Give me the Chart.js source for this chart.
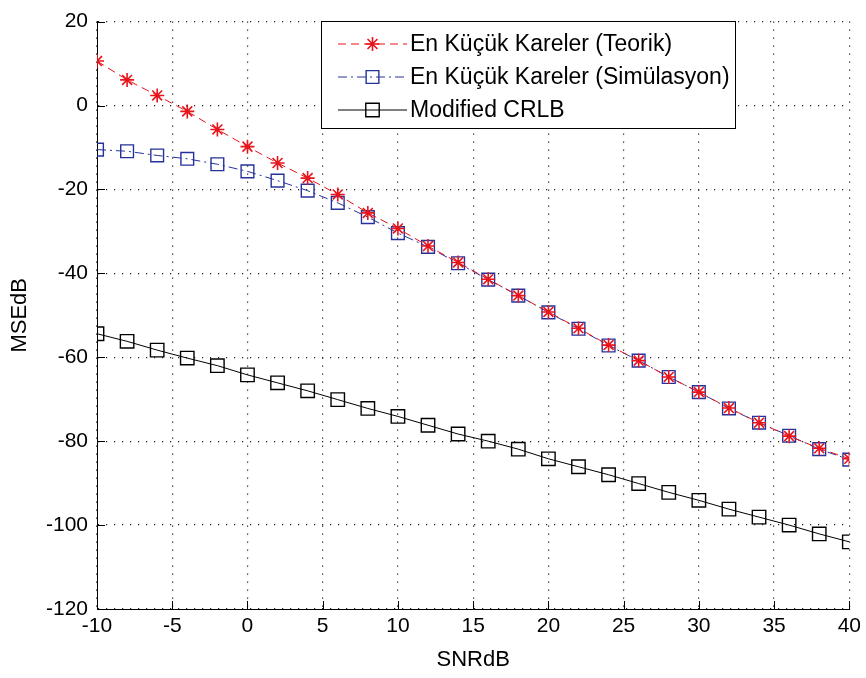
<!DOCTYPE html>
<html>
<head>
<meta charset="utf-8">
<script src="https://cdn.jsdelivr.net/npm/chart.js@4.4.1/dist/chart.umd.min.js"></script>
<style>
  html, body { margin: 0; padding: 0; background: #ffffff; }
  #wrap { width: 866px; height: 678px; }
</style>
</head>
<body>
<div id="wrap"><canvas id="mseChart" width="866" height="678"></canvas></div>
<script>
// SNR values (dB) on the x axis
const snrDb = [-10, -8, -6, -4, -2, 0, 2, 4, 6, 8, 10, 12, 14, 16, 18, 20, 22, 24, 26, 28, 30, 32, 34, 36, 38, 40];

// MSE (dB)
const lsTheory = [10.6, 6.1, 2.4, -1.4, -5.7, -9.8, -13.7, -17.3, -21.2, -25.6, -29.3, -33.5, -37.4,
                  -41.4, -45.3, -49.2, -53.1, -57.1, -60.8, -64.7, -68.3, -72.1, -75.6, -78.8, -81.7, -84.2];
const lsSim = [-10.5, -10.9, -11.9, -12.7, -14, -15.7, -17.9, -20.3, -23.2, -26.6, -30.4, -33.7, -37.6,
               -41.5, -45.3, -49.3, -53.2, -57.2, -60.8, -64.7, -68.3, -72.2, -75.6, -78.7, -81.9, -84.4];
const modCrlb = [-54.4, -56.2, -58.3, -60.2, -62, -64.2, -66.1, -68, -70.1, -72.2, -74.1, -76.2, -78.3,
                 -80, -81.9, -84.2, -86.1, -88, -90.1, -92.2, -94.1, -96.2, -98.1, -100, -102.1, -104];

const seriesNames = ["En Küçük Kareler (Teorik)", "En Küçük Kareler (Simülasyon)", "Modified CRLB"];
const xTicks = [-10, -5, 0, 5, 10, 15, 20, 25, 30, 35, 40];
const yTicks = [-120, -100, -80, -60, -40, -20, 0, 20];

const FONT = "'Liberation Sans', Arial, sans-serif";

function toPoints(values) {
    return snrDb.map((x, i) => ({ x: x, y: values[i] }));
}

// MATLAB style ticks pointing into the plot
const innerTicks = {
    id: "innerTicks",
    afterDraw(chart) {
        const ctx = chart.ctx;
        const area = chart.chartArea;
        const xs = chart.scales.x;
        const ys = chart.scales.y;
        ctx.save();
        ctx.strokeStyle = "#000";
        ctx.lineWidth = 1;
        ctx.beginPath();
        xTicks.forEach(v => {
            const px = Math.round(xs.getPixelForValue(v)) + 0.5;
            ctx.moveTo(px, area.bottom);
            ctx.lineTo(px, area.bottom - 8);
        });
        yTicks.forEach(v => {
            const py = Math.round(ys.getPixelForValue(v)) + 0.5;
            ctx.moveTo(area.left, py);
            ctx.lineTo(area.left + 8, py);
        });
        ctx.stroke();
        ctx.restore();
    }
};

// legend box in the upper part of the axes, like MATLAB's
const boxLegend = {
    id: "boxLegend",
    afterDraw(chart) {
        const ctx = chart.ctx;
        const left = 321, top = 21, w = 414, h = 107;
        ctx.save();
        ctx.fillStyle = "#fff";
        ctx.fillRect(left, top, w, h);
        ctx.strokeStyle = "#000";
        ctx.lineWidth = 1;
        ctx.strokeRect(left + 0.5, top + 0.5, w, h);

        chart.data.datasets.forEach((ds, i) => {
            const y = 44 + i * 33;
            ctx.strokeStyle = ds.borderColor;
            ctx.lineWidth = 1;
            ctx.setLineDash(ds.borderDash || []);
            ctx.beginPath();
            ctx.moveTo(338, y);
            ctx.lineTo(407, y);
            ctx.stroke();
            ctx.setLineDash([]);
            ctx.lineWidth = ds.pointBorderWidth;
            ctx.fillStyle = "rgba(0,0,0,0)"; // hollow markers
            Chart.helpers.drawPoint(ctx, {
                pointStyle: ds.pointStyle,
                radius: ds.pointRadius,
                rotation: 0,
                borderWidth: ds.pointBorderWidth
            }, 372.5, y);

            ctx.fillStyle = "#000";
            ctx.font = "23px " + FONT;
            ctx.textBaseline = "middle";
            ctx.textAlign = "left";
            ctx.fillText(ds.label, 410, y + 1);
        });
        ctx.restore();
    }
};

const ctx = document.getElementById("mseChart").getContext("2d");
const chart = new Chart(ctx, {
    type: "line",
    data: {
        datasets: [
            {
                label: seriesNames[0],
                data: toPoints(lsTheory),
                borderColor: "#e8141c",
                borderWidth: 1,
                borderDash: [8, 5],
                pointStyle: "star",
                pointRadius: 7,
                pointBorderWidth: 1.6,
                pointBorderColor: "#e8141c",
                pointBackgroundColor: "rgba(0,0,0,0)",
                tension: 0
            },
            {
                label: seriesNames[1],
                data: toPoints(lsSim),
                borderColor: "#26329c",
                borderWidth: 1,
                borderDash: [9, 4, 2, 4],
                pointStyle: "rect",
                pointRadius: 9,
                pointBorderWidth: 1.4,
                pointBorderColor: "#26329c",
                pointBackgroundColor: "rgba(0,0,0,0)",
                tension: 0
            },
            {
                label: seriesNames[2],
                data: toPoints(modCrlb),
                borderColor: "#000000",
                borderWidth: 1,
                pointStyle: "rect",
                pointRadius: 9.5,
                pointBorderWidth: 1.4,
                pointBorderColor: "#000000",
                pointBackgroundColor: "rgba(0,0,0,0)",
                tension: 0
            }
        ]
    },
    options: {
        responsive: false,
        animation: false,
        layout: { padding: { top: 14, right: 12, left: 0, bottom: 0 } },
        plugins: {
            legend: { display: false },
            tooltip: { enabled: false }
        },
        scales: {
            x: {
                type: "linear",
                min: -10,
                max: 40,
                afterBuildTicks: s => { s.ticks = xTicks.map(v => ({ value: v })); },
                afterFit: s => { s.height = 69; },
                ticks: { color: "#000", font: { family: FONT, size: 21 }, padding: 5, maxRotation: 0 },
                grid: { color: "#222", lineWidth: 1.2, drawTicks: false },
                border: { display: true, color: "#000", width: 1, dash: [1.2, 6.8] },
                title: { display: true, text: "SNRdB", color: "#000", font: { family: FONT, size: 22 }, padding: { top: 0, bottom: 5 } }
            },
            y: {
                min: -120,
                max: 20,
                afterBuildTicks: s => { s.ticks = yTicks.map(v => ({ value: v })); },
                afterFit: s => { s.width = 97; },
                ticks: { color: "#000", font: { family: FONT, size: 21 }, padding: 9 },
                grid: { color: "#222", lineWidth: 1.2, drawTicks: false },
                border: { display: true, color: "#000", width: 1, dash: [1.2, 6.8] },
                title: { display: true, text: "MSEdB", color: "#000", font: { family: FONT, size: 22 }, padding: { top: 7, bottom: 0 } }
            }
        }
    },
    plugins: [innerTicks, boxLegend]
});
</script>
</body>
</html>
